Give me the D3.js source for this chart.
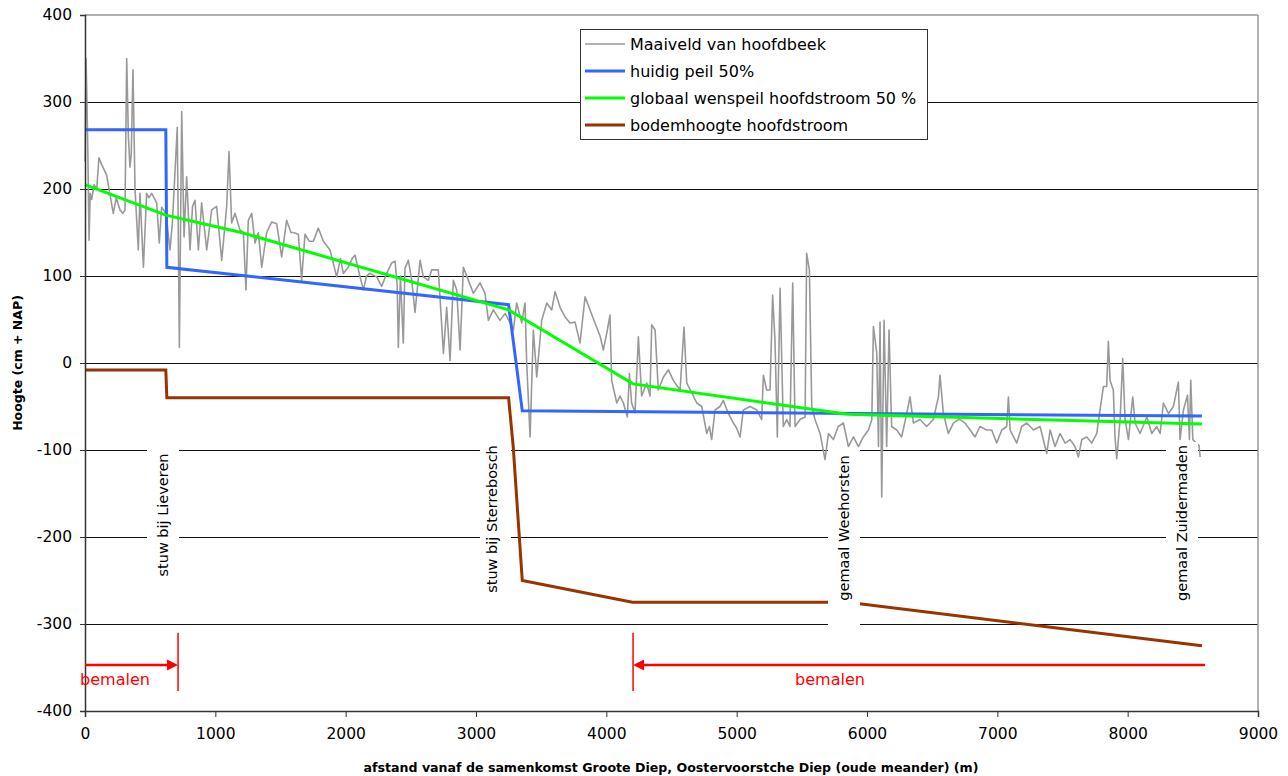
<!DOCTYPE html>
<html>
<head>
<meta charset="utf-8">
<script src="https://cdn.jsdelivr.net/npm/d3@7"></script>
<style>
  html, body { margin: 0; padding: 0; background: #fff; }
  svg { display: block; font-family: 'DejaVu Sans', Verdana, sans-serif; }
</style>
</head>
<body>
<svg id="chart" width="1288" height="776"></svg>
<script>
// ---------- DATA ----------
const xTicks = [0, 1000, 2000, 3000, 4000, 5000, 6000, 7000, 8000, 9000];
const yTicks = [400, 300, 200, 100, 0, -100, -200, -300, -400];

const seriesNames = ["Maaiveld van hoofdbeek", "huidig peil 50%", "globaal wenspeil hoofdstroom 50 %", "bodemhoogte hoofdstroom"];

const maaiveld = [
 [0,232],[8,350],[15,300],[22,240],[31,141],[40,195],[51,188],[70,205],[90,200],[107,236],[128,228],[166,216],[190,195],[217,172],[240,190],[268,176],[290,172],[307,176],[320,350],[333,260],[345,225],[355,240],[368,337],[384,199],[409,130],[422,195],[448,110],[473,195],[490,190],[512,195],[550,184],[570,138],[588,179],[621,172],[652,130],[670,160],[690,218],[708,271],[724,18],[742,289],[760,145],[780,214],[806,130],[825,180],[844,187],[870,130],[895,184],[934,130],[972,176],[1010,180],[1049,118],[1087,180],[1105,243],[1125,161],[1151,172],[1189,153],[1215,150],[1235,84],[1253,164],[1279,172],[1304,138],[1330,150],[1356,110],[1394,150],[1432,162],[1471,160],[1509,122],[1547,164],[1580,150],[1598,150],[1637,148],[1662,95],[1688,148],[1720,140],[1752,140],[1790,155],[1829,140],[1880,130],[1931,99],[1960,120],[1982,103],[2020,110],[2050,120],[2072,124],[2110,99],[2136,84],[2160,100],[2187,103],[2238,99],[2276,88],[2315,103],[2353,115],[2379,117],[2395,90],[2404,18],
 [2420,100],[2442,23],[2455,109],[2481,118],[2507,95],[2532,58],[2571,118],[2596,99],[2635,95],[2660,107],[2686,107],[2711,107],[2750,11],[2775,64],[2801,3],[2826,95],[2852,84],[2878,15],[2903,110],[2942,95],[2980,80],[3031,92],[3069,80],[3095,49],[3133,61],[3184,49],[3223,57],[3261,46],[3287,38],[3312,69],[3351,46],[3376,69],[3389,0],[3415,-85],[3440,38],[3466,-16],[3504,49],[3543,69],[3581,61],[3607,82],[3645,64],[3683,53],[3722,46],[3760,47],[3798,23],[3837,76],[3875,61],[3913,46],[3952,31],[3977,15],[4003,34],[4028,55],[4041,-20],[4080,-46],[4105,-38],[4131,-46],[4161,-62],[4177,-12],[4194,-46],[4220,-57],[4246,30],[4271,-38],[4310,-23],[4335,-38],[4348,44],[4374,38],[4399,-31],[4438,-16],[4476,-8],[4514,-20],[4566,-31],[4596,41],[4617,-23],[4655,-34],[4694,-46],[4732,-50],[4770,-81],[4791,-73],
 [4808,-88],[4834,-54],[4872,-50],[4898,-43],[4936,-58],[4975,-69],[5000,-75],[5026,-85],[5051,-54],[5103,-50],[5154,-54],[5192,-65],[5205,-14],[5230,-31],[5256,-31],[5276,78],[5294,26],[5312,-85],[5333,86],[5358,-73],[5384,-65],[5409,-73],[5430,92],[5448,-73],[5486,-65],[5525,-62],[5537,126],[5558,107],[5576,-50],[5601,-65],[5640,-81],[5678,-111],[5704,-81],[5742,-88],[5780,-73],[5819,-69],[5857,-96],[5896,-85],[5934,-96],[5972,-85],[6011,-77],[6037,-65],[6049,42],[6075,11],[6088,-96],[6100,47],[6113,-154],[6131,49],[6151,-96],[6169,38],[6189,-73],[6228,-77],[6266,-85],[6305,-58],[6330,-39],[6356,-69],[6407,-65],[6458,-73],[6509,-65],[6548,-39],[6560,-14],[6586,-58],[6624,-81],[6663,-69],[6701,-65],
 [6714,-65],[6752,-69],[6791,-77],[6829,-85],[6867,-73],[6918,-77],[6957,-77],[6995,-92],[7034,-77],[7072,-73],[7085,-39],[7098,-77],[7149,-92],[7187,-73],[7226,-69],[7277,-77],[7328,-73],[7379,-104],[7405,-77],[7443,-96],[7481,-81],[7520,-92],[7558,-88],[7596,-96],[7622,-108],[7648,-88],[7686,-85],[7724,-92],[7763,-81],[7788,-54],[7814,-27],[7839,-27],[7852,25],[7865,-20],[7890,-31],[7903,-85],[7916,-110],[7942,-65],[7962,5],[7980,-65],[8006,-88],[8039,-39],[8057,-69],[8095,-81],[8147,-62],[8185,-81],[8223,-73],[8249,-81],[8274,-46],[8313,-58],[8351,-50],[8366,-39],[8389,-22],[8402,-88],[8428,-54],[8459,-37],[8474,-88],[8484,-20],[8500,-88],[8548,-95],[8556,-108]
];

const huidigPeil = [[0,268],[620,268],[628,110],[3250,67],[3355,-55],[8570,-61]];
const wenspeil = [[0,205],[620,170],[1200,150],[3250,61],[4205,-24],[5850,-59],[8570,-70]];
const bodem = [[0,-8],[620,-8],[628,-40],[3250,-40],[3285,-95],[3355,-250],[4200,-275],[5850,-275],[8570,-325]];

const structures = [
  {name: "stuw bij Lieveren",    x: 620,  y: -175},
  {name: "stuw bij Sterrebosch", x: 3180, y: -180},
  {name: "gemaal Weehorsten",    x: 5880, y: -190},
  {name: "gemaal Zuidermaden",   x: 8400, y: -185}
];

const bemalenLeft  = {from: 0,    to: 714,  bar: 714,  label: "bemalen", labelX: 230};
const bemalenRight = {from: 8594, to: 4205, bar: 4205, label: "bemalen", labelX: 5716};

// ---------- LAYOUT ----------
const W = 1288, H = 776;
const margin = {left: 85, top: 15, right: 30, bottom: 65};
const svg = d3.select("#chart");
const x = d3.scaleLinear().domain([0, 9000]).range([margin.left, W - margin.right]);
const y = d3.scaleLinear().domain([-400, 400]).range([H - margin.bottom, margin.top]);

const colors = ["#999999", "#3366ff", "#00ff00", "#993300"];
const fmt = d => String(d);

// gridlines
svg.append("g").selectAll("line").data(yTicks.filter(d => d > -400 && d < 400)).join("line")
  .attr("x1", x(0)).attr("x2", x(9000))
  .attr("y1", d => Math.round(y(d)) + 0.5).attr("y2", d => Math.round(y(d)) + 0.5)
  .attr("stroke", "#111").attr("stroke-width", 1);

// frame top/right
svg.append("line").attr("x1", x(0)).attr("x2", x(9000)).attr("y1", y(400)).attr("y2", y(400))
  .attr("stroke", "#999").attr("stroke-width", 1.5);
svg.append("line").attr("x1", x(9000)).attr("x2", x(9000)).attr("y1", y(400)).attr("y2", y(-400))
  .attr("stroke", "#999").attr("stroke-width", 1.5);

// series
const line = d3.line().x(d => x(d[0])).y(d => y(d[1]));
svg.append("path").datum(maaiveld).attr("d", line).attr("fill", "none")
  .attr("stroke", colors[0]).attr("stroke-width", 1.6).attr("stroke-linejoin", "round");
svg.append("path").datum(bodem).attr("d", line).attr("fill", "none")
  .attr("stroke", colors[3]).attr("stroke-width", 3);
svg.append("path").datum(huidigPeil).attr("d", line).attr("fill", "none")
  .attr("stroke", colors[1]).attr("stroke-width", 3);
svg.append("path").datum(wenspeil).attr("d", line).attr("fill", "none")
  .attr("stroke", colors[2]).attr("stroke-width", 3);

// structure labels with white boxes
const boxes = [[147, 179, 444, 590], [480, 511, 438, 600], [828, 860, 448, 628], [1166, 1198, 442, 612]];
structures.forEach((s, i) => {
  const b = boxes[i];
  svg.append("rect").attr("x", b[0]).attr("y", b[2]).attr("width", b[1] - b[0]).attr("height", b[3] - b[2])
    .attr("fill", "#fff");
});
const labelPos = [[163, 515], [492, 519], [844, 528], [1182, 523]];
structures.forEach((s, i) => {
  const p = labelPos[i];
  svg.append("text").attr("transform", `translate(${p[0]},${p[1]}) rotate(-90)`)
    .attr("text-anchor", "middle").attr("dominant-baseline", "central")
    .attr("font-size", 14.5).attr("fill", "#000").text(s.name);
});

// axes
const yAxis = d3.axisLeft(y).tickValues(yTicks).tickSize(5).tickFormat(fmt);
const gy = svg.append("g").attr("transform", `translate(${x(0)},0)`).call(yAxis);
gy.select(".domain").attr("stroke", "#333").attr("stroke-width", 1.5);
gy.selectAll(".tick line").attr("stroke", "#333");
gy.selectAll(".tick text").attr("font-size", 15.5).attr("font-family", "'DejaVu Sans'").attr("fill", "#000").attr("x", -13);

const xAxis = d3.axisBottom(x).tickValues(xTicks).tickSize(6).tickFormat(fmt);
const gx = svg.append("g").attr("transform", `translate(0,${y(-400)})`).call(xAxis);
gx.select(".domain").attr("stroke", "#333").attr("stroke-width", 1.5);
gx.selectAll(".tick line").attr("stroke", "#333");
gx.selectAll(".tick text").attr("font-size", 15.5).attr("font-family", "'DejaVu Sans'").attr("fill", "#000").attr("dy", "1.25em");

// axis titles
svg.append("text").attr("transform", `translate(22,${y(0)}) rotate(-90)`)
  .attr("text-anchor", "middle").attr("font-weight", "bold").attr("font-size", 12.5).text("Hoogte (cm + NAP)");
svg.append("text").attr("x", 671).attr("y", 772)
  .attr("text-anchor", "middle").attr("font-weight", "bold").attr("font-size", 12.6)
  .text("afstand vanaf de samenkomst Groote Diep, Oostervoorstche Diep (oude meander) (m)");

// bemalen annotations
const red = "#ff0000";
[bemalenLeft, bemalenRight].forEach(a => {
  svg.append("line").attr("x1", x(a.bar)).attr("x2", x(a.bar)).attr("y1", y(-310)).attr("y2", y(-377))
    .attr("stroke", red).attr("stroke-width", 1.5);
  const dir = a.to > a.from ? 1 : -1;
  const xe = x(a.to), ya = y(-347);
  svg.append("line").attr("x1", x(a.from)).attr("x2", xe - dir * 10).attr("y1", ya).attr("y2", ya)
    .attr("stroke", red).attr("stroke-width", 2.5);
  svg.append("path").attr("d", `M${xe},${ya} L${xe - dir * 11},${ya - 5.5} L${xe - dir * 11},${ya + 5.5} Z`)
    .attr("fill", red);
  svg.append("text").attr("x", x(a.labelX)).attr("y", y(-370)).attr("text-anchor", "middle")
    .attr("font-size", 16).attr("fill", red).text(a.label);
});

// legend
const lg = svg.append("g");
lg.append("rect").attr("x", 580.5).attr("y", 29.5).attr("width", 347).attr("height", 110)
  .attr("fill", "#fff").attr("stroke", "#333").attr("stroke-width", 1);
const legYs = [44, 71, 98, 125];
seriesNames.forEach((n, i) => {
  lg.append("line").attr("x1", 585).attr("x2", 625).attr("y1", legYs[i]).attr("y2", legYs[i])
    .attr("stroke", colors[i]).attr("stroke-width", i === 0 ? 1.6 : 3);
  lg.append("text").attr("x", 630).attr("y", legYs[i]).attr("dominant-baseline", "central")
    .attr("font-size", 16).attr("fill", "#000").text(n);
});
</script>
</body>
</html>
